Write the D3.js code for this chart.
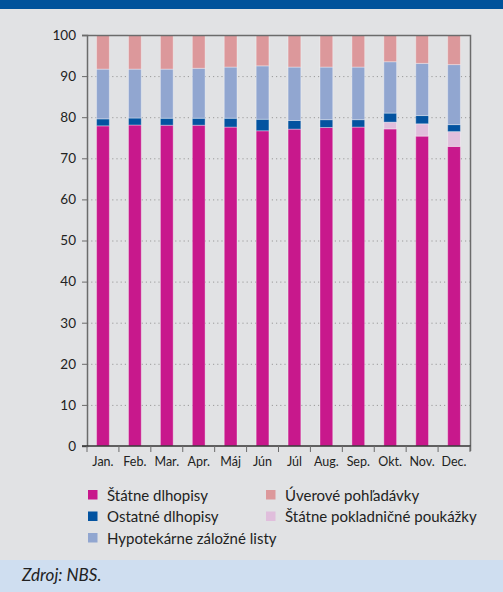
<!DOCTYPE html>
<html>
<head>
<meta charset="utf-8">
<script src="https://cdn.jsdelivr.net/npm/d3@7"></script>
<style>
  html, body { margin: 0; padding: 0; background: #e1e2e4; }
  svg { display: block; font-family: Lato, "Open Sans", sans-serif; }
</style>
</head>
<body>
<svg id="chart"></svg>
<script>
const months = ["Jan.", "Feb.", "Mar.", "Apr.", "Máj", "Jún", "Júl", "Aug.", "Sep.", "Okt.", "Nov.", "Dec."];
const statneDlhopisy = [77.9, 78.1, 78.05, 78.05, 77.6, 76.7, 77.1, 77.5, 77.6, 77.15, 75.4, 72.9];
const pokladnicnePoukazky = [0, 0, 0, 0, 0, 0, 0, 0, 0, 1.65, 3.0, 3.6];
const ostatneDlhopisy = [1.7, 1.7, 1.7, 1.7, 2.15, 2.8, 2.1, 1.9, 1.8, 2.2, 2.0, 1.7];
const hypotekarneListy = [12.1, 11.9, 11.95, 12.15, 12.45, 13.0, 13.0, 12.8, 12.8, 12.5, 12.7, 14.6];
const uverovePohladavky = [8.3, 8.3, 8.3, 8.1, 7.8, 7.5, 7.8, 7.8, 7.8, 6.5, 6.9, 7.2];
const yTicks = [0, 10, 20, 30, 40, 50, 60, 70, 80, 90, 100];

const series = [
  { key: "sd", name: "Štátne dlhopisy", values: statneDlhopisy, color: "#c8188c" },
  { key: "pp", name: "Štátne pokladničné poukážky", values: pokladnicnePoukazky, color: "#e0bedc" },
  { key: "od", name: "Ostatné dlhopisy", values: ostatneDlhopisy, color: "#0353a0" },
  { key: "hl", name: "Hypotekárne záložné listy", values: hypotekarneListy, color: "#91a6d0" },
  { key: "up", name: "Úverové pohľadávky", values: uverovePohladavky, color: "#dc989b" },
];

const width = 503;
const height = 592;
const margin = { top: 35, left: 87, right: 33, bottom: 146 };

const svg = d3.select("#chart").attr("width", width).attr("height", height);

svg.append("rect").attr("width", width).attr("height", height).attr("fill", "#e1e2e4");
svg.append("rect").attr("width", width).attr("height", 9).attr("fill", "#00529b");
svg.append("rect").attr("y", 560).attr("width", width).attr("height", 32).attr("fill", "#cfdef0");

const table = months.map((m, i) => {
  const row = { month: m };
  series.forEach((s) => (row[s.key] = s.values[i]));
  return row;
});
const stacked = d3.stack().keys(series.map((s) => s.key))(table);

const x = d3.scaleBand().domain(months).range([margin.left, width - margin.right]).paddingInner(0.6).paddingOuter(0.3);
const y = d3.scaleLinear().domain([0, 100]).range([height - margin.bottom, margin.top]);

// gridlines
svg.append("g")
  .selectAll("line")
  .data(yTicks.filter((d) => d > 0 && d < 100))
  .join("line")
  .attr("x1", margin.left)
  .attr("x2", width - margin.right)
  .attr("y1", (d) => y(d) + 0.5)
  .attr("y2", (d) => y(d) + 0.5)
  .attr("stroke", "#9a9a9a")
  .attr("stroke-dasharray", "1.2,3");

// bars
const color = Object.fromEntries(series.map((s) => [s.key, s.color]));
svg.append("g")
  .selectAll("g")
  .data(stacked)
  .join("g")
  .attr("fill", (d) => color[d.key])
  .selectAll("rect")
  .data((d) => d.filter((p) => p[1] - p[0] > 0))
  .join("rect")
  .attr("x", (d) => x(d.data.month))
  .attr("width", x.bandwidth())
  .attr("y", (d) => y(d[1]))
  .attr("height", (d) => y(d[0]) - y(d[1]))
  .attr("stroke", "rgba(255,255,255,0.35)")
  .attr("stroke-width", 1);

// frame: top and right lines
svg.append("path")
  .attr("d", `M${margin.left - 5},${y(100) + 0.5}H${width - margin.right + 0.5}V${y(0) + 5}`)
  .attr("fill", "none")
  .attr("stroke", "#6b6b6b")
  .attr("stroke-width", 1.5);

// y axis
const yAxis = svg.append("g")
  .attr("transform", `translate(${margin.left},0)`)
  .call(d3.axisLeft(y).tickValues(yTicks).tickSize(5).tickPadding(6));
yAxis.select(".domain").attr("stroke", "#6b6b6b").attr("stroke-width", 1.5);
yAxis.selectAll(".tick line").attr("stroke", "#6b6b6b");
yAxis.selectAll("text").attr("font-size", 13.5).attr("fill", "#222").style("font-family", "Lato, sans-serif");

// x axis: ticks at band boundaries
const xAxisG = svg.append("g").attr("transform", `translate(0,${y(0)})`);
xAxisG.append("line")
  .attr("x1", margin.left - 5)
  .attr("x2", width - margin.right + 0.5)
  .attr("stroke", "#333")
  .attr("stroke-width", 1.5);
const step = x.step();
xAxisG.selectAll("line.tick")
  .data(d3.range(months.length + 1))
  .join("line")
  .attr("class", "tick")
  .attr("x1", (i) => margin.left + i * step)
  .attr("x2", (i) => margin.left + i * step)
  .attr("y1", 0)
  .attr("y2", 6)
  .attr("stroke", "#6b6b6b");
xAxisG.selectAll("text")
  .data(months)
  .join("text")
  .attr("x", (d) => x(d) + x.bandwidth() / 2)
  .attr("y", 20)
  .attr("text-anchor", "middle")
  .attr("font-size", 12.5)
  .attr("fill", "#222")
  .text((d) => d);

// legend
const legendOrder = [
  { s: series[0], col: 0, row: 0 },
  { s: series[2], col: 0, row: 1 },
  { s: series[3], col: 0, row: 2 },
  { s: series[4], col: 1, row: 0 },
  { s: series[1], col: 1, row: 1 },
];
const legend = svg.append("g")
  .selectAll("g")
  .data(legendOrder)
  .join("g")
  .attr("transform", (d) => `translate(${d.col ? 266 : 88},${495 + d.row * 21.5})`);
legend.append("rect")
  .attr("y", -5)
  .attr("width", 9.5)
  .attr("height", 9.5)
  .attr("fill", (d) => d.s.color);
legend.append("text")
  .attr("x", 19)
  .attr("y", 5.5)
  .attr("font-size", 15)
  .attr("fill", "#222")
  .text((d) => d.s.name);

// source
svg.append("text")
  .attr("x", 22)
  .attr("y", 581)
  .attr("font-size", 17)
  .attr("font-style", "italic")
  .attr("fill", "#222")
  .text("Zdroj: NBS.");
</script>
</body>
</html>
